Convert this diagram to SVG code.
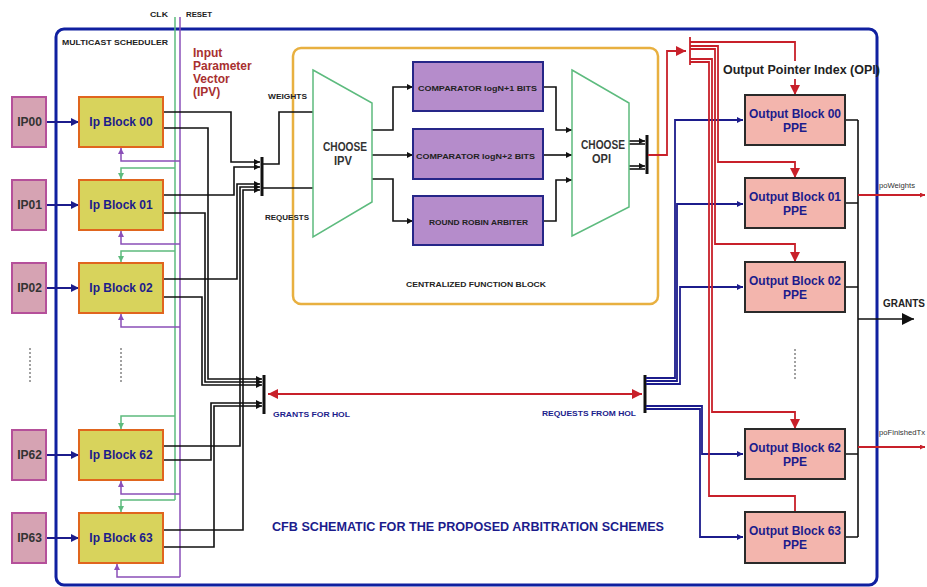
<svg xmlns="http://www.w3.org/2000/svg" width="927" height="587" viewBox="0 0 927 587">
<style>
text{font-family:"Liberation Sans",Arial,sans-serif;font-weight:bold}
.ip{fill:#d6a3b3;stroke:#b5509a;stroke-width:2}
.ib{fill:#d8d35c;stroke:#e0651e;stroke-width:2}
.cmp{fill:#b58ccb;stroke:#262688;stroke-width:2}
.ob{fill:#f3b5ad;stroke:#2a2a2a;stroke-width:2}
.trap{fill:#fff;stroke:#5dbb7e;stroke-width:1.5}
.k{fill:none;stroke:#111;stroke-width:1.6}
.nv{fill:none;stroke:#1c1c8c;stroke-width:1.8}
.rd{fill:none;stroke:#c8202a;stroke-width:1.8}
.gr{fill:none;stroke:#5dbb7e;stroke-width:1.5}
.pu{fill:none;stroke:#8a4fb8;stroke-width:1.5}
.bus{fill:none;stroke:#111;stroke-width:3}
.iptx{font-size:12px;fill:#333;text-anchor:middle}
.ibtx{font-size:12px;fill:#1c1c8c;text-anchor:middle}
.obtx{font-size:12px;fill:#1c1c8c;text-anchor:middle}
.sm{font-size:8px;fill:#222}
.smn{font-size:8px;fill:#1c1c8c}
.dot{fill:none;stroke:#444;stroke-width:1;stroke-dasharray:2,2}
</style>
<defs>
<marker id="ak" viewBox="0 0 10 10" refX="10" refY="5" markerWidth="6" markerHeight="6" markerUnits="userSpaceOnUse" orient="auto"><path d="M0,0 L10,5 L0,10 z" fill="#111"/></marker>
<marker id="akL" viewBox="0 0 10 10" refX="10" refY="5" markerWidth="12" markerHeight="12" markerUnits="userSpaceOnUse" orient="auto"><path d="M0,0 L10,5 L0,10 z" fill="#111"/></marker>
<marker id="an" viewBox="0 0 10 10" refX="10" refY="5" markerWidth="8" markerHeight="8" markerUnits="userSpaceOnUse" orient="auto"><path d="M0,0 L10,5 L0,10 z" fill="#1c1c8c"/></marker>
<marker id="ans" viewBox="0 0 10 10" refX="10" refY="5" markerWidth="6" markerHeight="6" markerUnits="userSpaceOnUse" orient="auto"><path d="M0,0 L10,5 L0,10 z" fill="#1c1c8c"/></marker>
<marker id="ar" viewBox="0 0 10 10" refX="10" refY="5" markerWidth="10" markerHeight="10" markerUnits="userSpaceOnUse" orient="auto-start-reverse"><path d="M0,0 L10,5 L0,10 z" fill="#c8202a"/></marker>
<marker id="ars" viewBox="0 0 10 10" refX="10" refY="5" markerWidth="5" markerHeight="5" markerUnits="userSpaceOnUse" orient="auto"><path d="M0,0 L10,5 L0,10 z" fill="#c8202a"/></marker>
<marker id="ag" viewBox="0 0 10 10" refX="10" refY="5" markerWidth="6" markerHeight="6" markerUnits="userSpaceOnUse" orient="auto"><path d="M0,0 L10,5 L0,10 z" fill="#5dbb7e"/></marker>
<marker id="ap" viewBox="0 0 10 10" refX="10" refY="5" markerWidth="6" markerHeight="6" markerUnits="userSpaceOnUse" orient="auto"><path d="M0,0 L10,5 L0,10 z" fill="#8a4fb8"/></marker>
</defs>
<rect width="927" height="587" fill="#fff"/>

<g id="frame">
<rect x="56" y="29" width="821" height="556" rx="8" fill="none" stroke="#1020a0" stroke-width="3"/>
<text x="62" y="45" class="sm" textLength="106" lengthAdjust="spacingAndGlyphs">MULTICAST SCHEDULER</text>
</g>

<g id="cfb">
<rect x="293" y="48" width="365" height="256" rx="8" fill="none" stroke="#e8b040" stroke-width="2.5"/>
<text x="406" y="287" class="sm" textLength="140" lengthAdjust="spacingAndGlyphs">CENTRALIZED FUNCTION BLOCK</text>
</g>

<g id="labels">
<text x="150" y="17" class="sm" textLength="18" lengthAdjust="spacingAndGlyphs">CLK</text>
<text x="186" y="17" class="sm" textLength="26" lengthAdjust="spacingAndGlyphs">RESET</text>
<text x="193" y="57" font-size="12" fill="#a83030">Input</text>
<text x="193" y="70" font-size="12" fill="#a83030">Parameter</text>
<text x="193" y="83" font-size="12" fill="#a83030">Vector</text>
<text x="193" y="96" font-size="12" fill="#a83030">(IPV)</text>
<text x="268" y="99" class="sm" textLength="39" lengthAdjust="spacingAndGlyphs">WEIGHTS</text>
<text x="265" y="220" class="sm" textLength="44" lengthAdjust="spacingAndGlyphs">REQUESTS</text>
<text x="273" y="417" class="smn" textLength="77" lengthAdjust="spacingAndGlyphs">GRANTS FOR HOL</text>
<text x="542" y="416" class="smn" textLength="94" lengthAdjust="spacingAndGlyphs">REQUESTS FROM HOL</text>
<text x="272" y="531" font-size="13" fill="#1c1c8c" textLength="392" lengthAdjust="spacingAndGlyphs">CFB SCHEMATIC FOR THE PROPOSED ARBITRATION SCHEMES</text>
<text x="723" y="74" font-size="12.5" fill="#222" textLength="157" lengthAdjust="spacingAndGlyphs">Output Pointer Index (OPI)</text>
<text x="883" y="307" font-size="10" fill="#222" textLength="42" lengthAdjust="spacingAndGlyphs">GRANTS</text>
<text x="879" y="188" font-size="7" fill="#333" style="font-weight:normal" textLength="36" lengthAdjust="spacingAndGlyphs">poWeights</text>
<text x="879" y="435" font-size="7" fill="#333" style="font-weight:normal" textLength="46" lengthAdjust="spacingAndGlyphs">poFinishedTx</text>
</g>

<g id="connectors">
<path class="gr" d="M175,17 V500"/>
<path class="pu" d="M180,17 V577"/>
<path class="pu" d="M180,161 H121 V148" marker-end="url(#ap)"/>
<path class="gr" d="M175,168 H121 V179" marker-end="url(#ag)"/>
<path class="pu" d="M180,244 H121 V231" marker-end="url(#ap)"/>
<path class="gr" d="M175,251 H121 V262" marker-end="url(#ag)"/>
<path class="pu" d="M180,327 H121 V314" marker-end="url(#ap)"/>
<path class="gr" d="M175,416 H121 V429" marker-end="url(#ag)"/>
<path class="pu" d="M180,494 H121 V481" marker-end="url(#ap)"/>
<path class="gr" d="M175,500 H121 V512" marker-end="url(#ag)"/>
<path class="pu" d="M180,577 H117 V564" marker-end="url(#ap)"/>
<path class="nv" stroke-width="2" d="M46,122 H79" marker-end="url(#an)"/>
<path class="nv" stroke-width="2" d="M46,205 H79" marker-end="url(#an)"/>
<path class="nv" stroke-width="2" d="M46,288 H79" marker-end="url(#an)"/>
<path class="nv" stroke-width="2" d="M46,455 H79" marker-end="url(#an)"/>
<path class="nv" stroke-width="2" d="M46,538 H79" marker-end="url(#an)"/>
<path class="k" d="M163,112 H231 V162 H260" marker-end="url(#ak)"/>
<path class="k" d="M163,195 H234 V167 H260" marker-end="url(#ak)"/>
<path class="k" d="M163,279 H237 V184 H260" marker-end="url(#ak)"/>
<path class="k" d="M163,446 H240 V187 H260" marker-end="url(#ak)"/>
<path class="k" d="M163,530 H243 V190 H260" marker-end="url(#ak)"/>
<path class="bus" d="M262,157 V196"/>
<path class="k" d="M263,164 H279 V112 H313"/>
<path class="k" d="M263,188 H313"/>
<path class="k" d="M163,128 H208 V379 H262" marker-end="url(#ak)"/>
<path class="k" d="M163,213 H205 V382 H262" marker-end="url(#ak)"/>
<path class="k" d="M163,297 H202 V385 H262" marker-end="url(#ak)"/>
<path class="k" d="M163,460 H211 V403 H262" marker-end="url(#ak)"/>
<path class="k" d="M163,547 H214 V406 H262" marker-end="url(#ak)"/>
<path class="bus" d="M264,375 V414"/>
<path class="rd" stroke-width="2" d="M268,394 H642" marker-start="url(#ar)" marker-end="url(#ar)"/>
<path class="bus" stroke="#1c1c8c" d="M645,375 V413"/>
<path class="nv" d="M646,378 H675 V120 H743" marker-end="url(#ans)"/>
<path class="nv" d="M646,381 H677 V204 H743" marker-end="url(#ans)"/>
<path class="nv" d="M646,384 H680 V287 H743" marker-end="url(#ans)"/>
<path class="nv" d="M646,406 H702 V454 H743" marker-end="url(#ans)"/>
<path class="nv" d="M646,409 H700 V537 H743" marker-end="url(#ans)"/>
<path class="k" d="M372,130 H393 V87 H413" marker-end="url(#ak)"/>
<path class="k" d="M372,155 H413" marker-end="url(#ak)"/>
<path class="k" d="M372,179 H393 V221 H413" marker-end="url(#ak)"/>
<path class="k" d="M543,87 H556 V130 H572" marker-end="url(#ak)"/>
<path class="k" d="M543,155 H572" marker-end="url(#ak)"/>
<path class="k" d="M543,221 H556 V180 H572" marker-end="url(#ak)"/>
<path class="k" stroke-width="1.2" d="M629,141 H645" marker-end="url(#ak)"/>
<path class="k" stroke-width="1.2" d="M629,144 H645"/>
<path class="k" stroke-width="1.2" d="M629,166 H645" marker-end="url(#ak)"/>
<path class="k" stroke-width="1.2" d="M629,169 H645"/>
<path class="bus" d="M647,135 V174"/>
<path class="rd" stroke-width="3" d="M648,155 H667 V51 H686" marker-end="url(#ar)"/>
<path class="rd" stroke-width="4" d="M690,37 V65"/>
<path class="rd" d="M690,42 H795 V61"/>
<path class="rd" d="M795,79 V95" marker-end="url(#ar)"/>
<path class="rd" d="M690,46 H718 V162 H795 V178" marker-end="url(#ar)"/>
<path class="rd" d="M690,49 H715 V244 H795 V262" marker-end="url(#ar)"/>
<path class="rd" d="M690,59 H712 V412 H795 V429" marker-end="url(#ar)"/>
<path class="rd" d="M690,62 H709 V496 H795 V512"/>
<path class="k" d="M845,120 H858 M845,203 H858 M845,287 H858 M845,454 H858 M845,537 H858 M858,120 V537"/>
<path class="k" stroke-width="3.5" d="M858,319 H914" marker-end="url(#akL)"/>
<path class="rd" stroke-width="1.2" d="M858,195 H925" marker-end="url(#ars)"/>
<path class="rd" stroke-width="1.2" d="M858,447 H925" marker-end="url(#ars)"/>
<path class="dot" d="M30,348 V382 M121,348 V382 M795,349 V381"/>
</g>

<g id="ip00"><rect class="ip" x="12" y="97" width="34" height="50"/><text class="iptx" x="29.5" y="126">IP00</text></g>
<g id="ip01"><rect class="ip" x="12" y="180" width="34" height="50"/><text class="iptx" x="29.5" y="209">IP01</text></g>
<g id="ip02"><rect class="ip" x="12" y="263" width="34" height="50"/><text class="iptx" x="29.5" y="292">IP02</text></g>
<g id="ip62"><rect class="ip" x="12" y="430" width="34" height="50"/><text class="iptx" x="29.5" y="459">IP62</text></g>
<g id="ip63"><rect class="ip" x="12" y="513" width="34" height="50"/><text class="iptx" x="29.5" y="542">IP63</text></g>

<g id="ipblock00"><rect class="ib" x="79" y="97" width="84" height="50"/><text class="ibtx" x="121" y="126">Ip Block 00</text></g>
<g id="ipblock01"><rect class="ib" x="79" y="180" width="84" height="50"/><text class="ibtx" x="121" y="209">Ip Block 01</text></g>
<g id="ipblock02"><rect class="ib" x="79" y="263" width="84" height="50"/><text class="ibtx" x="121" y="292">Ip Block 02</text></g>
<g id="ipblock62"><rect class="ib" x="79" y="430" width="84" height="50"/><text class="ibtx" x="121" y="459">Ip Block 62</text></g>
<g id="ipblock63"><rect class="ib" x="79" y="513" width="84" height="50"/><text class="ibtx" x="121" y="542">Ip Block 63</text></g>

<g id="chooseipv"><polygon class="trap" points="313,70 372,103 372,202 313,237"/>
<text x="323" y="151" font-size="13" fill="#333" textLength="44" lengthAdjust="spacingAndGlyphs">CHOOSE</text>
<text x="334" y="165" font-size="13" fill="#333" textLength="18" lengthAdjust="spacingAndGlyphs">IPV</text></g>
<g id="comp1"><rect class="cmp" x="413" y="62" width="130" height="49"/><text x="418" y="91" class="sm" textLength="119" lengthAdjust="spacingAndGlyphs">COMPARATOR logN+1 BITS</text></g>
<g id="comp2"><rect class="cmp" x="413" y="129" width="130" height="50"/><text x="416" y="159" class="sm" textLength="119" lengthAdjust="spacingAndGlyphs">COMPARATOR logN+2 BITS</text></g>
<g id="rrarbiter"><rect class="cmp" x="413" y="196" width="130" height="49"/><text x="429" y="225" class="sm" textLength="99" lengthAdjust="spacingAndGlyphs">ROUND ROBIN ARBITER</text></g>
<g id="chooseopi"><polygon class="trap" points="572,70 629,103 629,207 572,236"/>
<text x="581" y="149" font-size="13" fill="#333" textLength="44" lengthAdjust="spacingAndGlyphs">CHOOSE</text>
<text x="592" y="163" font-size="13" fill="#333" textLength="19" lengthAdjust="spacingAndGlyphs">OPI</text></g>

<g id="ob00"><rect class="ob" x="745" y="95" width="100" height="50"/><text class="obtx" x="795" y="118">Output Block 00</text><text class="obtx" x="795" y="132">PPE</text></g>
<g id="ob01"><rect class="ob" x="745" y="178" width="100" height="50"/><text class="obtx" x="795" y="201">Output Block 01</text><text class="obtx" x="795" y="215">PPE</text></g>
<g id="ob02"><rect class="ob" x="745" y="262" width="100" height="50"/><text class="obtx" x="795" y="285">Output Block 02</text><text class="obtx" x="795" y="299">PPE</text></g>
<g id="ob62"><rect class="ob" x="745" y="429" width="100" height="50"/><text class="obtx" x="795" y="452">Output Block 62</text><text class="obtx" x="795" y="466">PPE</text></g>
<g id="ob63"><rect class="ob" x="745" y="512" width="100" height="51"/><text class="obtx" x="795" y="535">Output Block 63</text><text class="obtx" x="795" y="549">PPE</text></g>
</svg>
